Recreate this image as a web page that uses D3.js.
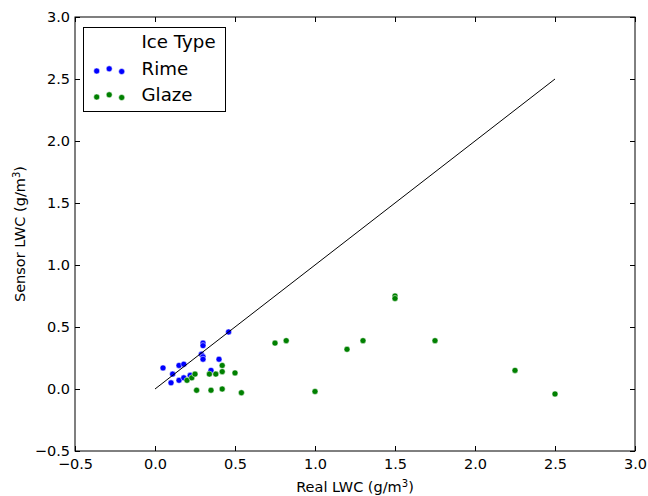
<!DOCTYPE html>
<html>
<head>
<meta charset="utf-8">
<script src="https://cdn.jsdelivr.net/npm/d3@7"></script>
<style>
  html, body { margin: 0; padding: 0; background: #fff; }
  svg { display: block; font-family: "DejaVu Sans", sans-serif; }
</style>
</head>
<body>
<svg id="chart" width="648" height="496"></svg>
<script>
// Real vs sensor liquid water content, grouped by ice type
const rimeX = [0.05, 0.10, 0.11, 0.15, 0.15, 0.18, 0.18, 0.22, 0.29, 0.30, 0.30, 0.30, 0.30, 0.35, 0.40, 0.46];
const rimeY = [0.17, 0.05, 0.12, 0.19, 0.07, 0.20, 0.09, 0.11, 0.28, 0.37, 0.35, 0.26, 0.24, 0.15, 0.24, 0.46];

const glazeX = [0.20, 0.23, 0.25, 0.26, 0.34, 0.35, 0.38, 0.42, 0.42, 0.42, 0.50, 0.54, 0.75, 0.82, 1.00, 1.20, 1.30, 1.50, 1.50, 1.75, 2.25, 2.50];
const glazeY = [0.07, 0.09, 0.12, -0.01, 0.12, -0.01, 0.12, 0.19, 0.14, 0.00, 0.13, -0.03, 0.37, 0.39, -0.02, 0.32, 0.39, 0.75, 0.73, 0.39, 0.15, -0.04];

const refLineX = [0, 2.5];
const refLineY = [0, 2.5];

const xTicks = [-0.5, 0.0, 0.5, 1.0, 1.5, 2.0, 2.5, 3.0];
const yTicks = [-0.5, 0.0, 0.5, 1.0, 1.5, 2.0, 2.5, 3.0];

const seriesNames = ["Rime", "Glaze"];
const seriesColors = ["#0000ff", "#008000"];
const legendTitle = "Ice Type";

const svg = d3.select("#chart");
const plot = { left: 75, right: 635, top: 17, bottom: 451 };
const labelSize = 14.5;
const legendSize = 18.2;
const dotRadius = 3;

const x = d3.scaleLinear().domain([-0.5, 3.0]).range([plot.left, plot.right]);
const y = d3.scaleLinear().domain([-0.5, 3.0]).range([plot.bottom, plot.top]);
const fmt = d3.format(".1f");

// point layers first, reference line above them
const groups = [
  { xs: rimeX, ys: rimeY, color: seriesColors[0] },
  { xs: glazeX, ys: glazeY, color: seriesColors[1] }
];
groups.forEach(g => {
  svg.append("g").selectAll("circle")
    .data(g.xs.map((v, i) => [v, g.ys[i]]))
    .join("circle")
    .attr("cx", d => x(d[0]))
    .attr("cy", d => y(d[1]))
    .attr("r", dotRadius)
    .attr("fill", g.color)
    .attr("stroke", "#fff")
    .attr("stroke-width", 0.5);
});

svg.append("path")
  .datum(refLineX.map((v, i) => [v, refLineY[i]]))
  .attr("d", d3.line().x(d => x(d[0])).y(d => y(d[1])))
  .attr("fill", "none")
  .attr("stroke", "#000")
  .attr("stroke-width", 1);

// axes with inward ticks on all four sides
function styleAxis(g) {
  g.selectAll(".domain").remove();
  g.selectAll("line").attr("stroke", "#000").attr("stroke-width", 1);
  g.selectAll("text").attr("font-family", "DejaVu Sans, sans-serif").attr("font-size", labelSize).attr("fill", "#000");
}

svg.append("g")
  .attr("transform", `translate(0,${plot.bottom})`)
  .call(d3.axisBottom(x).tickValues(xTicks).tickFormat(fmt).tickSize(-5).tickPadding(8))
  .call(styleAxis);
svg.append("g")
  .attr("transform", `translate(0,${plot.top})`)
  .call(d3.axisTop(x).tickValues(xTicks).tickFormat("").tickSize(-5))
  .call(styleAxis);
svg.append("g")
  .attr("transform", `translate(${plot.left},0)`)
  .call(d3.axisLeft(y).tickValues(yTicks).tickFormat(fmt).tickSize(-5).tickPadding(5))
  .call(styleAxis);
svg.append("g")
  .attr("transform", `translate(${plot.right},0)`)
  .call(d3.axisRight(y).tickValues(yTicks).tickFormat("").tickSize(-5))
  .call(styleAxis);

svg.append("rect")
  .attr("x", plot.left).attr("y", plot.top)
  .attr("width", plot.right - plot.left).attr("height", plot.bottom - plot.top)
  .attr("fill", "none").attr("stroke", "#000").attr("stroke-width", 1);

// axis titles
const xLabel = svg.append("text")
  .attr("x", (plot.left + plot.right) / 2).attr("y", 492)
  .attr("text-anchor", "middle").attr("font-size", labelSize);
xLabel.append("tspan").text("Real LWC (g/m");
xLabel.append("tspan").attr("font-size", 10).attr("dy", -5.5).text("3");
xLabel.append("tspan").attr("dy", 5.5).text(")");

const yLabel = svg.append("text")
  .attr("transform", `translate(25,${(plot.top + plot.bottom) / 2}) rotate(-90)`)
  .attr("text-anchor", "middle").attr("font-size", labelSize);
yLabel.append("tspan").text("Sensor LWC (g/m");
yLabel.append("tspan").attr("font-size", 10).attr("dy", -5.5).text("3");
yLabel.append("tspan").attr("dy", 5.5).text(")");

// legend
const legend = svg.append("g");
legend.append("rect")
  .attr("x", 83.5).attr("y", 27.5).attr("width", 142).attr("height", 84)
  .attr("fill", "#fff").attr("stroke", "#000").attr("stroke-width", 1);
legend.append("text")
  .attr("x", 141.5).attr("y", 47.7)
  .attr("font-size", legendSize).text(legendTitle);
const dotOffsets = [[96.7, 1.0], [109.2, -1.2], [121.7, 1.5]];
seriesNames.forEach((name, i) => {
  const cy = 70 + i * 26;
  legend.append("g").selectAll("circle")
    .data(dotOffsets)
    .join("circle")
    .attr("cx", d => d[0]).attr("cy", d => cy + d[1])
    .attr("r", dotRadius)
    .attr("fill", seriesColors[i])
    .attr("stroke", "#fff").attr("stroke-width", 0.5);
  legend.append("text")
    .attr("x", 141.5).attr("y", cy + 5)
    .attr("font-size", legendSize).text(name);
});
</script>
</body>
</html>
